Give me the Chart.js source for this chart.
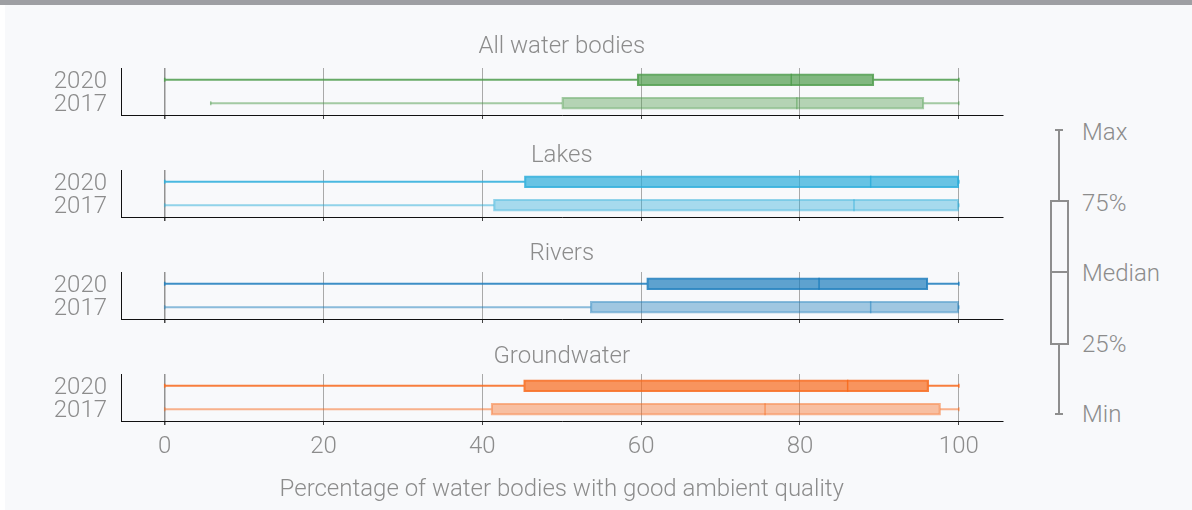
<!DOCTYPE html>
<html lang="en">

<head>
  <meta charset="UTF-8" />
  <title>Water bodies with good ambient quality</title>
  <script src="https://cdn.jsdelivr.net/npm/chart.js"></script>
  <style>
    body {
      margin: 0;
      background: #fff;
      font-family: Roboto, Arial, sans-serif;
    }
    .topbar {
      position: absolute;
      left: 0;
      top: 0;
      width: 1192px;
      height: 5px;
      background: #9e9fa3;
    }
    .card {
      position: absolute;
      left: 5px;
      top: 5px;
      width: 1187px;
      height: 505px;
      background: #f8f9fb;
    }
    canvas {
      position: absolute;
      left: 0;
    }
    .key {
      position: absolute;
      background: #8e8e8e;
    }
    .key-box {
      position: absolute;
      left: 1050px;
      top: 200px;
      width: 15px;
      height: 141px;
      border: 2px solid #8e8e8e;
      background: #f8f9fb;
    }
    .key-label {
      position: absolute;
      left: 1082px;
      font: 300 24px Roboto, sans-serif;
      line-height: 28px;
      color: #8c8c8c;
    }
  </style>
</head>

<body>
  <div class="topbar"></div>
  <div class="card"></div>

  <canvas id="panel0" width="1010" height="95" style="top:28px"></canvas>
  <canvas id="panel1" width="1010" height="95" style="top:130px"></canvas>
  <canvas id="panel2" width="1010" height="95" style="top:232px"></canvas>
  <canvas id="panel3" width="1010" height="176" style="top:334px"></canvas>

  <!-- box plot key -->
  <div class="key" style="left:1058px; top:130px; width:2px; height:284px"></div>
  <div class="key" style="left:1055px; top:129px; width:8px; height:2px"></div>
  <div class="key" style="left:1055px; top:413px; width:8px; height:2px"></div>
  <div class="key-box"></div>
  <div class="key" style="left:1050px; top:271px; width:19px; height:2px"></div>
  <div class="key-label" style="top:118px">Max</div>
  <div class="key-label" style="top:189px">75%</div>
  <div class="key-label" style="top:259px">Median</div>
  <div class="key-label" style="top:330px">25%</div>
  <div class="key-label" style="top:400px">Min</div>

  <script>
    const panelTitles = ["All water bodies", "Lakes", "Rivers", "Groundwater"];
    const years = ["2020", "2017"];
    const xTicks = [0, 20, 40, 60, 80, 100];
    const xTitle = "Percentage of water bodies with good ambient quality";

    // each pair is [2020, 2017]
    const allMin = [0, 5.8];
    const allQ1 = [59.5, 50.0];
    const allMedian = [78.9, 79.6];
    const allQ3 = [89.3, 95.6];
    const allMax = [100, 100];

    const lakesMin = [0, 0];
    const lakesQ1 = [45.3, 41.4];
    const lakesMedian = [88.9, 86.8];
    const lakesQ3 = [100, 100];
    const lakesMax = [100, 100];

    const riversMin = [0, 0];
    const riversQ1 = [60.7, 53.6];
    const riversMedian = [82.4, 88.9];
    const riversQ3 = [96.1, 100];
    const riversMax = [100, 100];

    const groundMin = [0, 0];
    const groundQ1 = [45.2, 41.1];
    const groundMedian = [86.0, 75.6];
    const groundQ3 = [96.2, 97.7];
    const groundMax = [100, 100];

    const panelColors = ["78,156,75", "42,173,218", "28,125,188", "248,105,27"];
    // gap between each panel title and its plot area
    const titleGaps = [6.6, 0.1, 4.1, 2.6];

    const textColor = "#8c8c8c";
    const font = { family: "Roboto", size: 24, weight: 300 };

    function makePanel(idx, mins, q1s, meds, q3s, maxs) {
      const rgb = panelColors[idx];
      const last = idx === 3;
      const fill = [`rgba(${rgb},0.7)`, `rgba(${rgb},0.4)`];
      const edge = [`rgba(${rgb},0.85)`, `rgba(${rgb},0.5)`];
      const bottomH = last ? 89 : 8;
      const gap = titleGaps[idx];

      new Chart(document.getElementById("panel" + idx), {
        type: "bar",
        data: {
          labels: years,
          datasets: [
            {
              // lower whisker
              data: years.map((y, i) => [mins[i], q1s[i]]),
              backgroundColor: edge,
              borderWidth: 0,
              barThickness: 1.5,
              grouped: false,
              order: 3
            },
            {
              // upper whisker
              data: years.map((y, i) => [q3s[i], maxs[i]]),
              backgroundColor: edge,
              borderWidth: 0,
              barThickness: 1.5,
              grouped: false,
              order: 3
            },
            {
              // box
              data: years.map((y, i) => [q1s[i], q3s[i]]),
              backgroundColor: fill,
              borderColor: edge,
              borderWidth: 1.5,
              borderSkipped: false,
              barThickness: 12,
              grouped: false,
              order: 2
            },
            {
              // median
              type: "line",
              indexAxis: "y",
              showLine: false,
              data: years.map((y, i) => ({ x: meds[i], y: y })),
              pointStyle: "line",
              rotation: 90,
              pointRadius: 6,
              pointBorderColor: edge,
              pointBorderWidth: 1.5,
              order: 1
            },
            {
              // whisker end caps
              type: "line",
              indexAxis: "y",
              showLine: false,
              data: years.flatMap((y, i) => [{ x: mins[i], y: y }, { x: maxs[i], y: y }]),
              pointStyle: "line",
              rotation: 90,
              pointRadius: 2,
              pointBorderColor: [edge[0], edge[0], edge[1], edge[1]],
              pointBorderWidth: 1.5,
              order: 1
            }
          ]
        },
        options: {
          indexAxis: "y",
          responsive: false,
          animation: false,
          events: [],
          layout: { padding: { left: 0, right: 7, top: 11.2 - gap, bottom: 0 } },
          scales: {
            x: {
              type: "linear",
              min: -5.5,
              max: 105.5,
              afterBuildTicks: s => { s.ticks = xTicks.map(v => ({ value: v })); },
              afterFit: s => {
                s.height = bottomH;
                s.paddingLeft = 0;
                s.paddingRight = 0;
              },
              grid: {
                color: c => (c.tick && c.tick.value === 0 ? "#929292" : "#a9a9a9"),
                lineWidth: c => (c.tick && c.tick.value === 0 ? 1.5 : 1),
                tickLength: 4,
                tickColor: "#444"
              },
              border: { color: "#111", width: 1 },
              ticks: { display: last, font: font, color: textColor, padding: 8 },
              title: {
                display: last,
                text: xTitle,
                font: font,
                color: textColor,
                padding: { top: 0, bottom: 5.6 }
              }
            },
            y: {
              type: "category",
              labels: years,
              afterFit: s => {
                s.width = 121;
                s.paddingTop = 0;
                s.paddingBottom = 0;
              },
              grid: { display: false, drawTicks: false },
              border: { color: "#111", width: 1 },
              ticks: { font: font, color: textColor, padding: 14, autoSkip: false, labelOffset: 2 }
            }
          },
          plugins: {
            legend: { display: false },
            tooltip: { enabled: false },
            title: {
              display: true,
              text: panelTitles[idx],
              fullSize: false,
              font: font,
              color: textColor,
              padding: { top: 0, bottom: gap }
            }
          }
        }
      });
    }

    makePanel(0, allMin, allQ1, allMedian, allQ3, allMax);
    makePanel(1, lakesMin, lakesQ1, lakesMedian, lakesQ3, lakesMax);
    makePanel(2, riversMin, riversQ1, riversMedian, riversQ3, riversMax);
    makePanel(3, groundMin, groundQ1, groundMedian, groundQ3, groundMax);
  </script>
</body>

</html>
